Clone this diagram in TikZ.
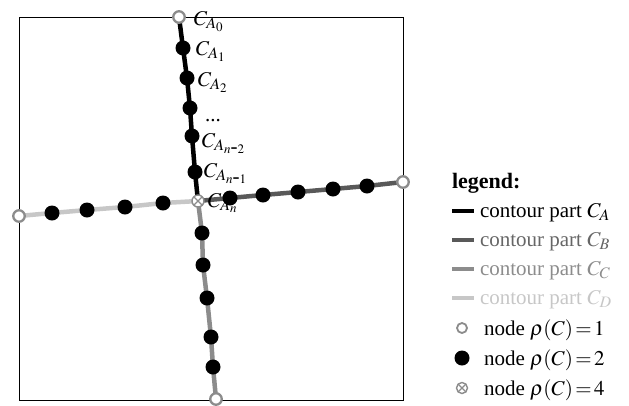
\documentclass[tikz,border=0pt]{standalone}
\usepackage{mathptmx}
\usepackage{fontspec}
\setmainfont{Liberation Serif}
\DeclareMathSizes{21}{21}{16}{13}
\begin{document}
\begin{tikzpicture}[x=1pt,y=-1pt,
  every node/.style={font=\fontsize{21}{24}\selectfont, inner sep=0pt, outer sep=0pt},
  dot/.style={circle, fill=black, minimum size=15pt},
  opennode/.style={circle, draw=gray!90, fill=white, line width=2.3pt, minimum size=11.5pt},
  crossnode/.style={circle, draw=gray!90, fill=white, line width=1.4pt, minimum size=12pt,
     path picture={\draw[gray!90, line width=1.2pt] (path picture bounding box.north west) -- (path picture bounding box.south east)
       (path picture bounding box.north east) -- (path picture bounding box.south west);}},
  lab/.style={anchor=base west},
  ca/.style={line width=4.5pt, black},
  cb/.style={line width=4.5pt, black!65},
  cc/.style={line width=4.5pt, black!45},
  cd/.style={line width=4.5pt, black!22},
  frame/.style={draw=black, line width=0.9pt}]
\useasboundingbox (0,0) rectangle (629,405);
\draw[frame] (19,17) rectangle (403,400);
% coordinates
\coordinate (a0) at (179,17);
\coordinate (a1) at (183,48);
\coordinate (a2) at (187,78);
\coordinate (a3) at (190,108);
\coordinate (a4) at (192,136);
\coordinate (a5) at (195,172);
\coordinate (c) at (198,201);
\coordinate (b1) at (230,198);
\coordinate (b2) at (263,195);
\coordinate (b3) at (298,192);
\coordinate (b4) at (333,189);
\coordinate (b5) at (367,186);
\coordinate (b6) at (403,182);
\coordinate (d1) at (52,213);
\coordinate (d2) at (87,210);
\coordinate (d3) at (125,207);
\coordinate (d4) at (163,203);
\coordinate (d5) at (19,216);
\coordinate (e1) at (202,233);
\coordinate (e2) at (203,265);
\coordinate (e3) at (207,298);
\coordinate (e4) at (211,337);
\coordinate (e5) at (213,367);
\coordinate (e6) at (216,399);
% contour lines
\draw[cd] (d5) -- (d1) -- (d2) -- (d3) -- (d4) -- (c);
\draw[cb] (c) -- (b1) -- (b2) -- (b3) -- (b4) -- (b5) -- (b6);
\draw[cc] (c) -- (e1) -- (e2) -- (e3) -- (e4) -- (e5) -- (e6);
\draw[ca] (a0) -- (a1) -- (a2) -- (a3) -- (a4) -- (a5) -- (c);
% labels
\node[lab] (la0) at (194,25) {$C_{A_0}$};
\node[lab] (la1) at (196,55) {$C_{A_1}$};
\node[lab] (la2) at (198,86) {$C_{A_2}$};
\node[lab] (ldots) at (205,121) {...};
\node[lab] (la4) at (202,147) {$C_{A_{n\mbox{-}2}}$};
\node[lab] (la5) at (204,177) {$C_{A_{n\mbox{-}1}}$};
\node[lab] (la6) at (208,207) {$C_{A_n}$};
% nodes
\foreach \p in {a1,a2,a3,a4,a5,b1,b2,b3,b4,b5,d1,d2,d3,d4,e1,e2,e3,e4,e5}
  \node[dot] (n\p) at (\p) {};
\foreach \p in {a0,b6,d5,e6}
  \node[opennode] (n\p) at (\p) {};
\node[crossnode] (nc) at (c) {};
% legend
\node[anchor=base west, font=\fontsize{22}{24}\selectfont\bfseries] (leg) at (452,188) {legend:};
\coordinate (l1a) at (452,211); \coordinate (l1b) at (474,211);
\coordinate (l2a) at (452,240); \coordinate (l2b) at (474,240);
\coordinate (l3a) at (452,269); \coordinate (l3b) at (474,269);
\coordinate (l4a) at (452,298); \coordinate (l4b) at (474,298);
\draw[ca] (l1a) -- (l1b);
\draw[cb] (l2a) -- (l2b);
\draw[cc] (l3a) -- (l3b);
\draw[cd] (l4a) -- (l4b);
\node[lab] (t1) at (480,217) {contour part $C_A$};
\node[lab, text=black!60] (t2) at (480,246) {contour part $C_B$};
\node[lab, text=black!45] (t3) at (480,275) {contour part $C_C$};
\node[lab, text=black!22] (t4) at (480,304) {contour part $C_D$};
\node[opennode, minimum size=10pt, line width=1.8pt] (s1) at (462,328) {};
\node[dot] (s2) at (462,358) {};
\node[crossnode, minimum size=11pt] (s3) at (462,388) {};
\node[lab] (t5) at (484,335) {node $\rho(C)\,{=}\,1$};
\node[lab] (t6) at (484,365) {node $\rho(C)\,{=}\,2$};
\node[lab] (t7) at (484,395) {node $\rho(C)\,{=}\,4$};
\end{tikzpicture}
\end{document}
